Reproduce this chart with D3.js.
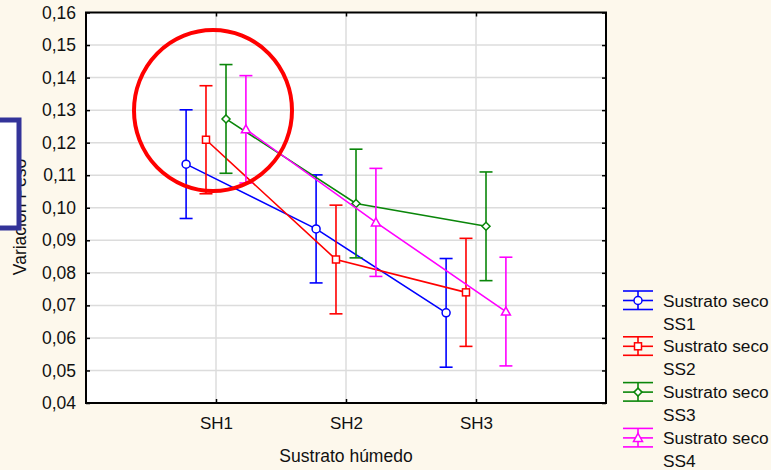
<!DOCTYPE html>
<html><head><meta charset="utf-8">
<script src="https://cdn.jsdelivr.net/npm/d3@7"></script>
<style>
html,body{margin:0;padding:0;background:#fdf8ec;}
svg{display:block;font-family:Arial,"Liberation Sans",sans-serif;}
</style></head>
<body>
<svg id="c" width="771" height="470"></svg>
<script>
const categories = ["SH1", "SH2", "SH3"];
const seriesNames = ["Sustrato seco SS1", "Sustrato seco SS2", "Sustrato seco SS3", "Sustrato seco SS4"];
const legendLine1 = ["Sustrato seco", "Sustrato seco", "Sustrato seco", "Sustrato seco"];
const legendLine2 = ["SS1", "SS2", "SS3", "SS4"];
const ss1 = [0.1134, 0.0935, 0.0677];
const ss2 = [0.1209, 0.0841, 0.0740];
const ss3 = [0.1273, 0.1013, 0.0943];
const ss4 = [0.1241, 0.0955, 0.0681];
const err1 = [0.0167, 0.0166, 0.0167];
const err2 = [0.0166, 0.0167, 0.0166];
const err3 = [0.0167, 0.0167, 0.0167];
const err4 = [0.0165, 0.0166, 0.0167];
const yTicks = [0.04, 0.05, 0.06, 0.07, 0.08, 0.09, 0.10, 0.11, 0.12, 0.13, 0.14, 0.15, 0.16];
const colors = ["#0000ff", "#ff0000", "#0a860a", "#ff00ff"];
const markers = ["circle", "square", "diamond", "triangle"];

const series = [ss1, ss2, ss3, ss4].map((v, i) => ({
  name: seriesNames[i], values: v, err: [err1, err2, err3, err4][i],
  color: colors[i], marker: markers[i], l1: legendLine1[i], l2: legendLine2[i]
}));

const svg = d3.select("#c");
const L = 86, R = 606, T = 12.5, B = 403;
const x = d3.scaleLinear().domain([0, categories.length + 1]).range([L, R]);
const y = d3.scaleLinear().domain([0.04, 0.16]).range([B, T]);
const offsets = [-0.23, -0.077, 0.077, 0.23];
const fmt = v => d3.format(".2f")(v).replace(".", ",");

// plot background
svg.append("rect").attr("x", L).attr("y", T).attr("width", R - L).attr("height", B - T).attr("fill", "#fff");

// gridlines
svg.append("g").selectAll("line").data(yTicks.slice(1, -1)).join("line")
  .attr("x1", L).attr("x2", R).attr("y1", d => y(d)).attr("y2", d => y(d))
  .attr("stroke", "#dcdcdc").attr("stroke-width", 1.5);
svg.append("g").selectAll("line").data(categories).join("line")
  .attr("x1", (d, i) => x(i + 1)).attr("x2", (d, i) => x(i + 1)).attr("y1", T).attr("y2", B)
  .attr("stroke", "#dcdcdc").attr("stroke-width", 1.5);

// axes
const yAxis = d3.axisLeft(y).tickValues(yTicks).tickFormat(fmt).tickSize(-4).tickPadding(10);
const gy = svg.append("g").attr("transform", `translate(${L},0)`).call(yAxis);
gy.select(".domain").remove();
gy.selectAll("line").attr("stroke", "#000").attr("stroke-width", 1.5);
gy.selectAll("text").attr("font-size", 17.5).attr("fill", "#111").attr("font-family", "Arial, 'Liberation Sans', sans-serif");
const yAxisR = d3.axisRight(y).tickValues(yTicks).tickFormat("").tickSize(-4);
const gyr = svg.append("g").attr("transform", `translate(${R},0)`).call(yAxisR);
gyr.select(".domain").remove();
gyr.selectAll("line").attr("stroke", "#000").attr("stroke-width", 1.5);

const xAxis = d3.axisBottom(x).tickValues(categories.map((d, i) => i + 1)).tickFormat((d) => categories[d - 1]).tickSize(-4).tickPadding(14);
const gx = svg.append("g").attr("transform", `translate(0,${B})`).call(xAxis);
gx.select(".domain").remove();
gx.selectAll("line").attr("stroke", "#000").attr("stroke-width", 1.5);
gx.selectAll("text").attr("font-size", 17).attr("fill", "#111").attr("font-family", "Arial, 'Liberation Sans', sans-serif");
const xAxisT = d3.axisTop(x).tickValues(categories.map((d, i) => i + 1)).tickFormat("").tickSize(-4);
const gxt = svg.append("g").attr("transform", `translate(0,${T})`).call(xAxisT);
gxt.select(".domain").remove();
gxt.selectAll("line").attr("stroke", "#000").attr("stroke-width", 1.5);

// frame
svg.append("rect").attr("x", L).attr("y", T).attr("width", R - L).attr("height", B - T)
  .attr("fill", "none").attr("stroke", "#000").attr("stroke-width", 2);

// marker drawing
function drawMarker(g, type, cx, cy, color) {
  if (type === "circle") {
    g.append("circle").attr("cx", cx).attr("cy", cy).attr("r", 4).attr("fill", "#fff").attr("stroke", color).attr("stroke-width", 1.5);
  } else if (type === "square") {
    g.append("rect").attr("x", cx - 3.5).attr("y", cy - 3.5).attr("width", 7).attr("height", 7).attr("fill", "#fff").attr("stroke", color).attr("stroke-width", 1.5);
  } else if (type === "diamond") {
    g.append("path").attr("d", `M${cx},${cy - 4}L${cx + 4},${cy}L${cx},${cy + 4}L${cx - 4},${cy}Z`).attr("fill", "#fff").attr("stroke", color).attr("stroke-width", 1.5);
  } else {
    g.append("path").attr("d", `M${cx},${cy - 4.5}L${cx + 4.5},${cy + 3.5}L${cx - 4.5},${cy + 3.5}Z`).attr("fill", "#fff").attr("stroke", color).attr("stroke-width", 1.5);
  }
}

// series
series.forEach((s, si) => {
  const g = svg.append("g");
  const px = i => x(i + 1 + offsets[si]);
  const line = d3.line().x((d, i) => px(i)).y(d => y(d));
  g.append("path").datum(s.values).attr("d", line).attr("fill", "none").attr("stroke", s.color).attr("stroke-width", 1.6);
  s.values.forEach((v, i) => {
    const cx = px(i), top = y(v + s.err[i]), bot = y(v - s.err[i]);
    g.append("line").attr("x1", cx).attr("x2", cx).attr("y1", top).attr("y2", bot).attr("stroke", s.color).attr("stroke-width", 1.6);
    [top, bot].forEach(yy => g.append("line").attr("x1", cx - 6.5).attr("x2", cx + 6.5).attr("y1", yy).attr("y2", yy).attr("stroke", s.color).attr("stroke-width", 1.6));
    drawMarker(g, s.marker, cx, y(v), s.color);
  });
});

// legend
const lg = svg.append("g");
series.forEach((s, i) => {
  const cy = 300.5 + i * 45.8;
  const g = lg.append("g");
  [cy - 9.5, cy, cy + 9].forEach(yy => g.append("line").attr("x1", 623).attr("x2", 653).attr("y1", yy).attr("y2", yy).attr("stroke", s.color).attr("stroke-width", 1.6));
  g.append("line").attr("x1", 638).attr("x2", 638).attr("y1", cy - 9.5).attr("y2", cy + 9).attr("stroke", s.color).attr("stroke-width", 1.6);
  drawMarker(g, s.marker, 638, cy, s.color);
  g.append("text").attr("x", 663).attr("y", cy + 6).attr("font-size", 17.3).attr("fill", "#111").text(s.l1);
  g.append("text").attr("x", 663).attr("y", cy + 29).attr("font-size", 17.3).attr("fill", "#111").text(s.l2);
});

// axis titles
svg.append("text").attr("x", 346).attr("y", 462).attr("text-anchor", "middle").attr("font-size", 17.5).attr("fill", "#111").text("Sustrato húmedo");
svg.append("text").attr("transform", "translate(25.5,217) rotate(-90)").attr("text-anchor", "middle").attr("font-size", 17.5).attr("fill", "#111").text("Variación Peso");

// annotations
svg.append("rect").attr("x", -10).attr("y", 120).attr("width", 29).attr("height", 108)
  .attr("fill", "#fff").attr("stroke", "#333399").attr("stroke-width", 5);
svg.append("ellipse").attr("cx", 213).attr("cy", 110.5).attr("rx", 79).attr("ry", 80.5)
  .attr("fill", "none").attr("stroke", "#ff0000").attr("stroke-width", 4);
</script>
</body></html>
